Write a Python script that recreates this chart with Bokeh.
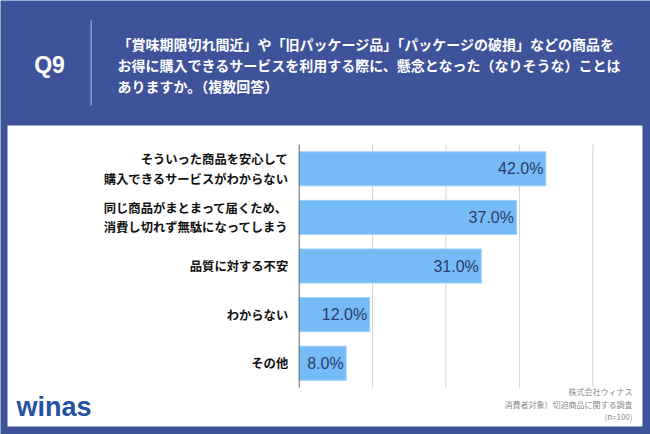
from bokeh.plotting import figure
from bokeh.models import Range1d, ColumnDataSource, BoxAnnotation
from bokeh.embed import file_html
from bokeh.resources import INLINE
from bokeh.core.properties import value

# ---- data ----
categories = [
    "そういった商品を安心して\n購入できるサービスがわからない",
    "同じ商品がまとまって届くため、\n消費し切れず無駄になってしまう",
    "品質に対する不安",
    "わからない",
    "その他",
]
percentages = [42.0, 37.0, 31.0, 12.0, 8.0]
grid_ticks = [0, 12.5, 25, 37.5, 50]
question_no = "Q9"
question_lines = [
    "「賞味期限切れ間近」や「旧パッケージ品」「パッケージの破損」などの商品を",
    "お得に購入できるサービスを利用する際に、懸念となった（なりそうな）ことは",
    "ありますか。（複数回答）",
]
footnote_lines = ["株式会社ウィナス", "消費者対象）切迫商品に関する調査", "(n=100)"]
logo_text = "winas"

BLUE = "#3F539B"
BAR = "#74BBF7"
JP = value("Noto Sans CJK JP")
W, H = 650, 434

# layout geometry (pixels) -> data units
X0, PXU = 298.7, 5.8727      # pixel of 0 %, pixels per %
Y0, ROW = 144.0, 48.6        # pixel of top of plot area, pixels per row


def X(px):
    return (px - X0) / PXU


def Y(py):
    return -0.5 + (py - Y0) / ROW


rows = list(range(len(categories)))
src = ColumnDataSource(dict(row=rows, cat=categories, val=percentages,
                            zero=[0] * len(rows),
                            lab=[f"{v:.1f}%" for v in percentages]))

p = figure(width=W, height=H, x_range=Range1d(X(0), X(W)), y_range=Range1d(Y(H), Y(0)),
           output_backend="svg", toolbar_location=None, min_border=0)
p.axis.visible = False
p.grid.visible = False
p.outline_line_color = None
p.background_fill_color = BLUE
p.border_fill_color = BLUE

# white panel
p.add_layout(BoxAnnotation(left=X(7), right=X(642), top=Y(125), bottom=Y(426),
                           fill_color="white", fill_alpha=1.0, line_color=None,
                           level="image"))

# header
p.text(x=[X(49)], y=[Y(64)], text=[question_no], text_font=value("Liberation Sans"),
       text_font_style="bold", text_font_size="23px", text_color="white",
       text_align="center", text_baseline="middle")
p.segment(x0=[X(90.7)], y0=[Y(20)], x1=[X(90.7)], y1=[Y(105)],
          line_color="#8E9BCB", line_width=1.5)
p.text(x=[X(117)] * 3, y=[Y(43.7), Y(64.3), Y(85.0)], text=question_lines, text_font=JP,
       text_font_style="bold", text_font_size="14px", text_color="white",
       text_align="left", text_baseline="middle")

# grid lines (limited to the plot area)
gy0, gy1 = rows[0] - 0.5, rows[-1] + 0.5
p.segment(x0=grid_ticks[1:], y0=[gy0] * 4, x1=grid_ticks[1:], y1=[gy1] * 4,
          line_color="#D4D4D4", line_width=1)

# bars and value labels
p.hbar(y="row", right="val", left=0, height=0.7, source=src,
       fill_color=BAR, line_color="#9CD0FA", line_width=1)
p.text(x="val", y="row", text="lab", source=src, x_offset=-2.5,
       text_align="right", text_baseline="middle",
       text_font=value("Liberation Sans"), text_font_size="16px",
       text_color="#2B3C68")
p.segment(x0=[0], y0=[gy0], x1=[0], y1=[gy1], line_color="#666666", line_width=1)

# category labels
p.text(x="zero", y="row", text="cat", source=src, x_offset=-11,
       text_align="right", text_baseline="middle", text_font=JP,
       text_font_style="bold", text_font_size="12.3px", text_color="#111111",
       text_line_height=1.08)

# footer
p.text(x=[X(632)] * 3, y=[Y(391), Y(404), Y(415.5)], text=footnote_lines, text_font=JP,
       text_font_size="8px", text_color="#8A8A8A", text_align="right",
       text_baseline="middle")
p.text(x=[X(16)], y=[Y(406)], text=[logo_text], text_font=value("Liberation Sans"),
       text_font_style="bold", text_font_size="27px", text_color="#2352A3",
       text_align="left", text_baseline="middle")

open("out.html", "w").write(file_html(p, INLINE))
